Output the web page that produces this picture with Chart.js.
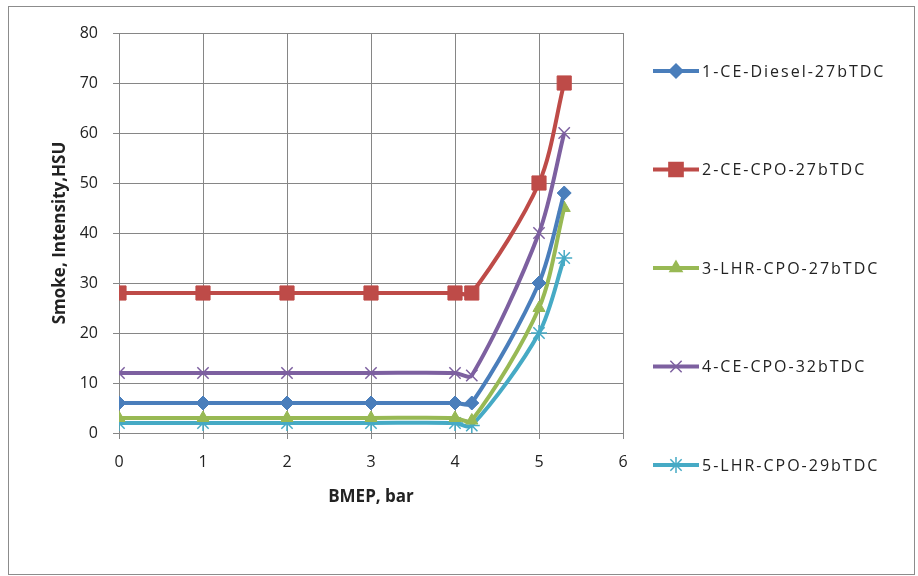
<!DOCTYPE html>
<html>
<head>
<meta charset="utf-8">
<script src="https://cdn.jsdelivr.net/npm/chart.js@4.4.1/dist/chart.umd.min.js"></script>
<style>
  html, body { margin: 0; padding: 0; background: #fff; }
  #wrap { width: 918px; height: 576px; position: relative; }
</style>
</head>
<body>
<div id="wrap"><canvas id="smoke_chart" width="918" height="576"></canvas></div>
<script>
// BMEP (bar) load points
const bmep = [0, 1, 2, 3, 4, 4.2, 5, 5.3];

const seriesNames = [
  "1-CE-Diesel-27bTDC",
  "2-CE-CPO-27bTDC",
  "3-LHR-CPO-27bTDC",
  "4-CE-CPO-32bTDC",
  "5-LHR-CPO-29bTDC",
];

// smoke intensity, HSU
const ceDiesel27 = [6, 6, 6, 6, 6, 6, 30, 48];
const ceCpo27 = [28, 28, 28, 28, 28, 28, 50, 70];
const lhrCpo27 = [3, 3, 3, 3, 3, 2.5, 25, 45];
const ceCpo32 = [12, 12, 12, 12, 12, 11.5, 40, 60];
const lhrCpo29 = [2, 2, 2, 2, 2, 1.5, 20, 35];

const colors = ["#4a7ebb", "#be4b48", "#98b954", "#7d60a0", "#46aac5"];
const markers = ["rectRot", "rect", "triangle", "crossRot", "star"];
const markerSize = [7, 10, 7, 8, 8];

const FONT = "'Open Sans', Lato, sans-serif";

const allSeries = [ceDiesel27, ceCpo27, lhrCpo27, ceCpo32, lhrCpo29];

const datasets = allSeries.map((vals, i) => ({
  label: seriesNames[i],
  data: vals.map((v, j) => ({ x: bmep[j], y: v })),
  borderColor: colors[i],
  backgroundColor: colors[i],
  pointStyle: markers[i],
  pointRadius: markerSize[i],
  pointBorderWidth: markers[i] === "crossRot" || markers[i] === "star" ? 1.5 : 1,
  borderWidth: 4,
  tension: 0.3,
}));

// frame around the whole picture + white background
const framePlugin = {
  id: "frame",
  beforeDraw(chart) {
    const c = chart.ctx;
    c.save();
    c.fillStyle = "#fff";
    c.fillRect(0, 0, chart.width, chart.height);
    c.strokeStyle = "#8c8c8c";
    c.lineWidth = 1;
    c.strokeRect(8.5, 6.5, 906, 568);
    c.restore();
  },
};

// legend drawn like Excel: line with marker, items spread down the right side
const legendPlugin = {
  id: "sideLegend",
  afterDraw(chart) {
    const c = chart.ctx;
    const x0 = 653, x1 = 699, top = 71, gap = 98.5;
    c.save();
    chart.data.datasets.forEach((ds, i) => {
      const y = top + i * gap;
      c.strokeStyle = ds.borderColor;
      c.lineWidth = 4;
      c.beginPath();
      c.moveTo(x0, y);
      c.lineTo(x1, y);
      c.stroke();
      c.fillStyle = ds.backgroundColor;
      c.lineWidth = 1.5;
      Chart.helpers.drawPoint(c, { pointStyle: ds.pointStyle, radius: ds.pointRadius, borderWidth: 1.5 }, (x0 + x1) / 2, y);
      c.fillStyle = "#222";
      c.font = "16px " + FONT;
      c.letterSpacing = "2px";
      c.textBaseline = "middle";
      c.fillText(ds.label, x1 + 3, y + 1);
    });
    c.restore();
  },
};

const ctx = document.getElementById("smoke_chart");

const smoke_chart = new Chart(ctx, {
  type: "line",
  data: { datasets },
  plugins: [framePlugin, legendPlugin],
  options: {
    responsive: false,
    animation: false,
    layout: { padding: { left: 42, top: 33, right: 295, bottom: 66 } },
    plugins: {
      legend: { display: false },
      tooltip: { enabled: false },
    },
    scales: {
      x: {
        type: "linear",
        min: 0,
        max: 6,
        ticks: { stepSize: 1, color: "#222", font: { size: 16, family: FONT }, padding: 14 },
        grid: { color: "#868686", tickLength: 6, lineWidth: 1 },
        border: { color: "#868686" },
        title: { display: true, text: "BMEP, bar", color: "#222", font: { size: 17, weight: "bold", family: FONT }, padding: { top: 2, bottom: 3 } },
        afterFit: (s) => { s.height = 77; },
      },
      y: {
        min: 0,
        max: 80,
        ticks: { stepSize: 10, color: "#222", font: { size: 16, family: FONT }, padding: 15 },
        grid: { color: "#868686", tickLength: 6, lineWidth: 1 },
        border: { color: "#868686" },
        title: { display: true, text: "Smoke, Intensity,HSU", color: "#222", font: { size: 17, weight: "bold", family: FONT }, padding: { top: 8, bottom: 7 } },
        afterFit: (s) => { s.width = 77; },
      },
    },
  },
});
</script>
</body>
</html>
